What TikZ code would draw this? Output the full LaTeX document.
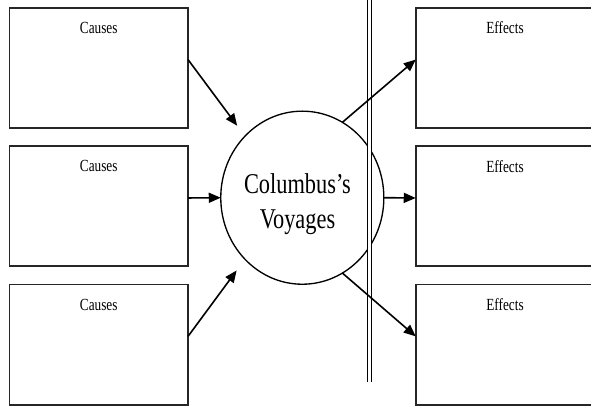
\documentclass[tikz,border=0pt]{standalone}
\usepackage{fontspec}
\setmainfont{Liberation Serif}[FakeStretch=0.78]
\usetikzlibrary{positioning,shapes.geometric,arrows.meta}

\newcommand{\boxfont}{\fontsize{12.75pt}{15pt}\selectfont}
\newcommand{\hubfont}{\fontsize{21.5pt}{26.25pt}\selectfont}

\begin{document}
\begin{tikzpicture}[x=0.75pt, y=0.75pt,
  box/.style={draw=black!85, line width=1.4pt, inner sep=0pt, outer sep=0pt, minimum width=133.9pt, minimum height=90.2pt},
  tag/.style={anchor=north, inner sep=0pt, yshift=-10.5pt, font=\boxfont},
  hub/.style={ellipse, draw, line width=1pt, inner sep=0pt, outer sep=0pt, minimum width=122.3pt, minimum height=129.8pt},
  arr/.style={-{Triangle[length=9pt, width=7.5pt]}, line width=1.2pt},
  rail/.style={double, double distance=1.9pt, line width=0.75pt}]
\clip (0,0) rectangle (591,406);
\node[box, label={[tag]north:Causes}] (c1) at (98.75,338.15) {};
\node[box, label={[tag]north:Causes}] (c2) [below=13.6pt of c1] {};
\node[box, label={[tag]north:Causes}] (c3) [below=13.6pt of c2] {};
\node[box, label={[tag]north:Effects}] (e1) [right=170.8pt of c1] {};
\node[box, label={[tag]north:Effects}] (e2) [right=170.8pt of c2] {};
\node[box, label={[tag]north:Effects}] (e3) [right=170.8pt of c3] {};
\node[hub, label={[align=center, font=\hubfont, xshift=-3.6pt, yshift=-5pt]center:Columbus’s\\Voyages}] (cv) at (302.3,208.3) {};
\coordinate (railtop) at (369.5,406);
\coordinate (railend) at (369.5,24.3);
\draw[rail] (railtop) -- (railend);
\draw[arr, shorten >=9.8pt] ([yshift=6.2pt]c1.east) -- (cv.133.6);
\draw[arr] ([yshift=6.2pt]c2.east) -- (cv.west);
\draw[arr, shorten >=10.5pt] ([yshift=6.2pt]c3.east) -- (cv.-133.3);
\draw[arr] (cv.62) -- ([yshift=6.2pt]e1.west);
\draw[arr] (cv.east) -- ([yshift=6.2pt]e2.west);
\draw[arr] (cv.-62) -- ([yshift=6.2pt]e3.west);
\end{tikzpicture}
\end{document}
